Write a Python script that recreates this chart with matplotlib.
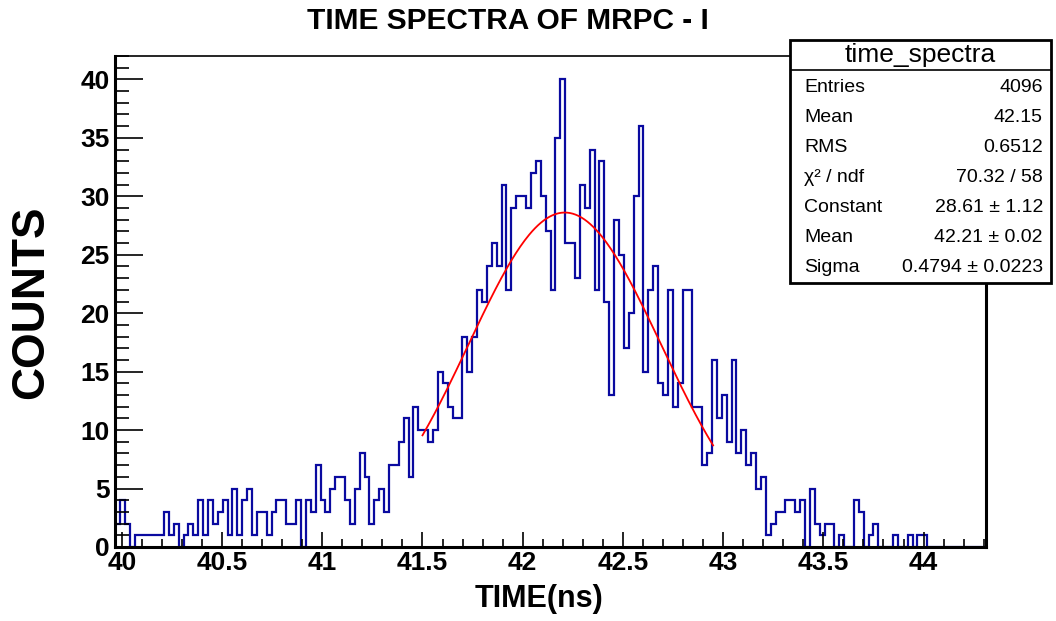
import matplotlib
matplotlib.use("Agg")
import matplotlib.pyplot as plt
import numpy as np
from matplotlib.ticker import MultipleLocator
from matplotlib.patches import Rectangle

plt.rcParams['font.family'] = ['Liberation Sans', 'DejaVu Sans']

# TDC channels: 4096 bins over 0-100 ns, shown from channel 1637 onwards
BIN_WIDTH = 100.0 / 4096
FIRST_CHANNEL = 1637

counts = [
    2, 4, 2, 0, 1, 1, 1, 1, 1, 1,
    3, 1, 2, 0, 1, 2, 1, 4, 1, 4,
    2, 3, 4, 1, 5, 1, 4, 5, 1, 3,
    3, 1, 3, 4, 4, 2, 2, 4, 0, 4,
    3, 7, 4, 3, 5, 6, 6, 4, 2, 5,
    8, 6, 2, 4, 5, 3, 7, 7, 9, 11,
    6, 12, 10, 10, 9, 10, 15, 14, 12, 11,
    11, 18, 15, 18, 22, 21, 24, 26, 24, 31,
    22, 29, 30, 30, 29, 32, 33, 30, 27, 22,
    35, 40, 26, 26, 23, 31, 29, 34, 22, 33,
    21, 13, 28, 25, 17, 20, 30, 36, 15, 22,
    24, 14, 13, 22, 12, 14, 22, 22, 12, 12,
    7, 8, 16, 11, 13, 9, 16, 8, 10, 7,
    8, 5, 6, 1, 2, 3, 3, 4, 4, 3,
    4, 0, 5, 2, 1, 2, 2, 0, 1, 0,
    0, 4, 3, 0, 1, 2, 0, 0, 0, 1,
    0, 0, 1, 0, 1, 1, 0, 0, 0, 0,
    0, 0, 0, 0, 0, 0, 0, 0,
]

# gaussian fit results (from the stats box)
fit_const = 28.61
fit_mean = 42.21
fit_sigma = 0.4794
fit_range = (41.5, 42.95)

stats_title = "time_spectra"
stats_labels = ["Entries", "Mean", "RMS", "χ² / ndf", "Constant", "Mean", "Sigma"]
stats_values = ["4096", "42.15", "0.6512", "70.32 / 58", "28.61 ± 1.12",
                "42.21 ± 0.02", "0.4794 ± 0.0223"]

edges = (FIRST_CHANNEL + np.arange(len(counts) + 1)) * BIN_WIDTH

W, H = 1056, 621
fig = plt.figure(figsize=(W / 100, H / 100), dpi=100)
ax = fig.add_axes([115 / W, 1 - 547 / H, 871 / W, 491 / H])

ax.stairs(counts, edges, color='#0a0aa0', linewidth=1.6, baseline=0)

xf = np.linspace(fit_range[0], fit_range[1], 200)
yf = fit_const * np.exp(-0.5 * ((xf - fit_mean) / fit_sigma) ** 2)
ax.plot(xf, yf, color='red', linewidth=1.3)

ax.set_xlim(edges[0], edges[-1])
ax.set_ylim(0, 42)

ax.xaxis.set_major_locator(MultipleLocator(0.5))
ax.xaxis.set_minor_locator(MultipleLocator(0.1))
ax.yaxis.set_major_locator(MultipleLocator(5))
ax.yaxis.set_minor_locator(MultipleLocator(1))
ax.xaxis.set_major_formatter(lambda v, p: f"{v:g}")
ax.tick_params(axis='x', which='major', direction='in', length=11, width=1.2, pad=3)
ax.tick_params(axis='x', which='minor', direction='in', length=5.5, width=1.2)
ax.tick_params(axis='y', which='major', direction='in', length=20, width=1.2, pad=4)
ax.tick_params(axis='y', which='minor', direction='in', length=10, width=1.2)
for lab in ax.get_xticklabels() + ax.get_yticklabels():
    lab.set_fontsize(19)
    lab.set_fontweight('bold')

for side in ['left', 'bottom', 'right']:
    ax.spines[side].set_linewidth(2.2)
ax.spines['top'].set_linewidth(1.2)

fig.text(508 / W, 1 - 21 / H, "TIME SPECTRA OF MRPC - I", ha='center', va='center',
         fontsize=21.5, fontweight='bold')
fig.text(539 / W, 1 - 599 / H, "TIME(ns)", ha='center', va='center',
         fontsize=22, fontweight='bold')
fig.text(31 / W, 1 - 302 / H, "COUNTS", rotation=90, ha='center', va='center',
         fontsize=33, fontweight='bold')

# stats box (pixel rows: title 55, divider 70, entries from 87 every 30)
box_top, box_bottom = 40, 283
bh = box_bottom - box_top
bx = fig.add_axes([790 / W, 1 - box_bottom / H, 261 / W, bh / H])
bx.set_xlim(0, 1)
bx.set_ylim(0, 1)
bx.axis('off')
bx.add_patch(Rectangle((0, 0), 1, 1, facecolor='white', edgecolor='black',
                       linewidth=2.0, transform=bx.transAxes, clip_on=False))
bx.plot([0, 1], [(box_bottom - 70) / bh] * 2, color='black', linewidth=1.2)
bx.text(0.5, (box_bottom - 55) / bh, stats_title, ha='center', va='center', fontsize=19)
for i, (lab, val) in enumerate(zip(stats_labels, stats_values)):
    y = (box_bottom - 87 - 30 * i) / bh
    bx.text(0.054, y, lab, ha='left', va='center', fontsize=14)
    bx.text(0.969, y, val, ha='right', va='center', fontsize=14)

fig.savefig("out.png", dpi=100)
plt.close(fig)
